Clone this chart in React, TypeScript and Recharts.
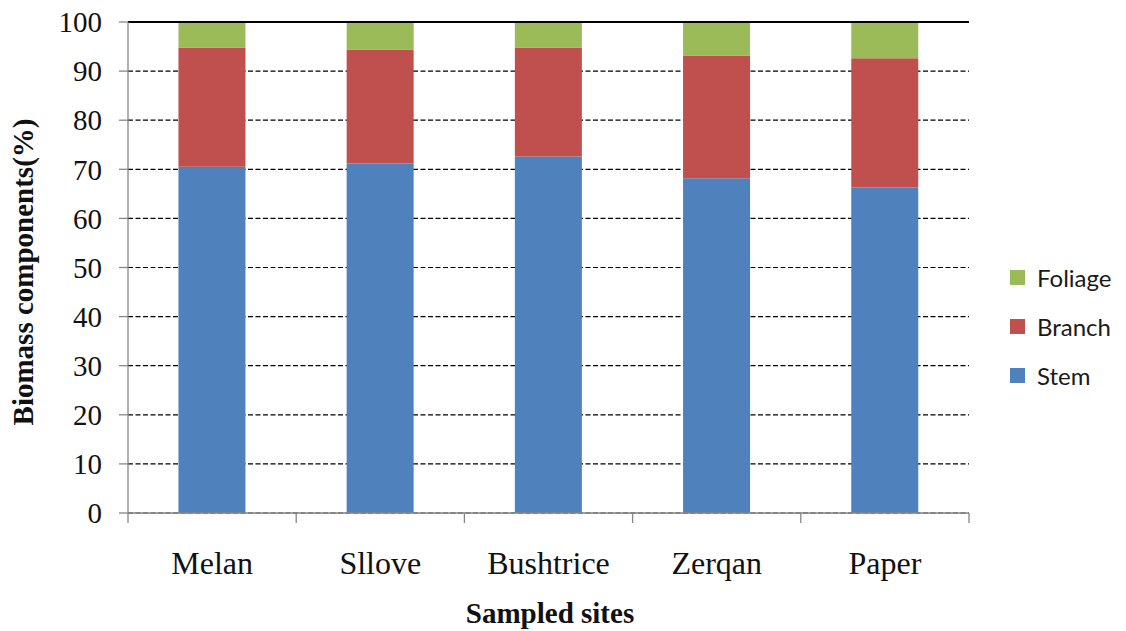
import React from 'react';
import { BarChart, Bar, XAxis, YAxis, CartesianGrid, ReferenceLine, Label } from 'recharts';

const sites = ['Melan', 'Sllove', 'Bushtrice', 'Zerqan', 'Paper'];
const stem = [70.5, 71.2, 72.6, 68.2, 66.3];
const branch = [24.3, 23.2, 22.2, 25.0, 26.3];
const foliage = [5.2, 5.6, 5.2, 6.8, 7.4];
const yTicks = [0, 10, 20, 30, 40, 50, 60, 70, 80, 90, 100];

const legendItems = [
  { name: 'Foliage', color: '#9BBB59' },
  { name: 'Branch', color: '#C0504D' },
  { name: 'Stem', color: '#4F81BD' },
];

const data = sites.map((s, i) => ({ site: s, Stem: stem[i], Branch: branch[i], Foliage: foliage[i] }));

const W = 1110;
const H = 625;
const M = { top: 16, right: 149, left: 0, bottom: 0 };
const YW = 120;
const XH = 118;
const plotW = W - M.left - M.right - YW;
const band = plotW / sites.length;
const AXIS_GRAY = '#868686';
const SERIF = '"Liberation Serif", "Times New Roman", serif';

const XTick = (props: any) => {
  const { x, y, payload, index } = props;
  return (
    <g>
      <line x1={x - band / 2} y1={y} x2={x - band / 2} y2={y + 10} stroke={AXIS_GRAY} strokeWidth={1.3} />
      {index === sites.length - 1 && (
        <line x1={x + band / 2} y1={y} x2={x + band / 2} y2={y + 10} stroke={AXIS_GRAY} strokeWidth={1.3} />
      )}
      <text x={x} y={y + 61} textAnchor="middle" fontFamily={SERIF} fontSize={32} fill="#111">
        {payload.value}
      </text>
    </g>
  );
};

const LegendBox = () => (
  <div style={{ position: 'absolute', left: 1002, top: 247, display: 'flex', flexDirection: 'column' }}>
    {legendItems.map((it) => (
      <div key={it.name} style={{ display: 'flex', alignItems: 'center', height: 49 }}>
        <div style={{ width: 15, height: 15, background: it.color, marginRight: 12 }} />
        <span style={{ fontFamily: 'Lato, "Open Sans", sans-serif', fontSize: 24, color: '#1a1a1a' }}>{it.name}</span>
      </div>
    ))}
  </div>
);

export default function App() {
  return (
    <div style={{ position: 'relative', width: W, height: H, marginTop: -2 }}>
      <BarChart width={W} height={H} data={data} margin={M} barCategoryGap="30%">
        <CartesianGrid horizontal vertical={false} stroke="#000" strokeDasharray="5 2.5" strokeWidth={1.2} />
        <XAxis
          dataKey="site"
          height={XH}
          tickSize={0}
          tickMargin={0}
          tickLine={false}
          axisLine={{ stroke: AXIS_GRAY, strokeWidth: 1.3 }}
          tick={<XTick />}
          interval={0}
        >
          <Label
            content={() => (
              <text x={542} y={617} textAnchor="middle" fontFamily={SERIF} fontWeight="bold" fontSize={29} fill="#111">
                Sampled sites
              </text>
            )}
          />
        </XAxis>
        <YAxis
          width={YW}
          domain={[0, 100]}
          ticks={yTicks}
          interval={0}
          tickSize={9}
          tickMargin={17}
          tickLine={{ stroke: AXIS_GRAY, strokeWidth: 1.3 }}
          axisLine={{ stroke: AXIS_GRAY, strokeWidth: 1.3 }}
          tick={{ fontFamily: SERIF, fontSize: 29, fill: '#111' }}
        >
          <Label
            content={() => (
              <text
                x={15}
                y={266}
                transform="rotate(-90, 15, 266)"
                textAnchor="middle"
                dominantBaseline="central"
                fontFamily={SERIF}
                fontWeight="bold"
                fontSize={29}
                fill="#111"
              >
                Biomass components(%)
              </text>
            )}
          />
        </YAxis>
        <YAxis
          yAxisId="r"
          orientation="right"
          width={0}
          domain={[0, 100]}
          tick={false}
          tickLine={false}
          axisLine={{ stroke: '#000', strokeWidth: 1.5 }}
        />
        <ReferenceLine y={100} stroke="#000" strokeWidth={1.8} />
        <Bar dataKey="Stem" stackId="a" fill="#4F81BD" isAnimationActive={false} />
        <Bar dataKey="Branch" stackId="a" fill="#C0504D" isAnimationActive={false} />
        <Bar dataKey="Foliage" stackId="a" fill="#9BBB59" isAnimationActive={false} />
      </BarChart>
      <LegendBox />
    </div>
  );
}
